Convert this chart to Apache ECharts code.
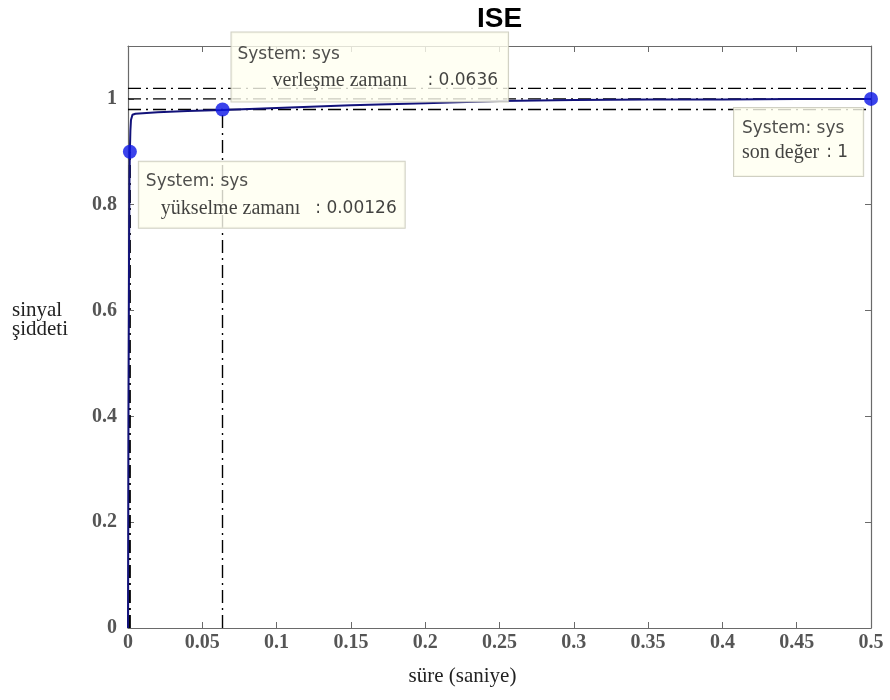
<!DOCTYPE html>
<html><head><meta charset="utf-8">
<script src="https://cdn.jsdelivr.net/npm/echarts@6/dist/echarts.min.js"></script>
<style>html,body{margin:0;padding:0;background:#fff}#c{width:890px;height:700px}</style>
</head><body><div id="c"></div>
<script>
// step response samples
const timeS  = [0, 0.0003, 0.0007, 0.001, 0.00126, 0.0016, 0.002, 0.003, 0.005, 0.01, 0.02, 0.04, 0.0636, 0.1, 0.15, 0.2, 0.25, 0.3, 0.35, 0.4, 0.45, 0.5];
const signal = [0, 0.4, 0.7, 0.85, 0.9, 0.94, 0.96, 0.97, 0.972, 0.973, 0.975, 0.977, 0.979, 0.983, 0.988, 0.992, 0.996, 0.998, 0.999, 0.999, 1.0, 1.0];
// characteristics
const riseTime = 0.00126, riseLevel = 0.9;
const settleTime = 0.0636, settleLevel = 0.98;
const finalTime = 0.5, finalValue = 1;
const bandLevels = [1.02, 1.0, 0.98];
const xTicks = [0,0.05,0.1,0.15,0.2,0.25,0.3,0.35,0.4,0.45,0.5];
const yTicks = [0,0.2,0.4,0.6,0.8,1];

const chart = echarts.init(document.getElementById('c'));
const dashDot = [13,5,2,5];
const series = [];
bandLevels.forEach(v => {
  series.push({type:'line', data:[[0,v],[0.5,v]], symbol:'none', silent:true,
    lineStyle:{color:'#000', width:1.4, type:dashDot}, z:2});
});
series.push({type:'line', data:[[riseTime,0],[riseTime,riseLevel]], symbol:'none',
  lineStyle:{color:'#000', width:2, type:dashDot}, z:2});
series.push({type:'line', data:[[settleTime,0],[settleTime,settleLevel]], symbol:'none',
  lineStyle:{color:'#000', width:1.4, type:dashDot}, z:2});
series.push({type:'line', data: timeS.map((t,i)=>[t,signal[i]]), symbol:'none',
  lineStyle:{color:'#12127a', width:2}, z:3});

const boxStyle = {backgroundColor:'#fffff0', borderColor:'#c4c4b4', borderWidth:1, color:'#000', align:'left', verticalAlign:'top'};
const hdr = {fontFamily:'DejaVu Sans', fontSize:17, color:'#222'};
const key = {fontFamily:'Liberation Serif', fontSize:20, color:'#111'};
const val = {fontFamily:'DejaVu Sans', fontSize:17, color:'#111'};
series.push({type:'scatter', symbolSize:14, itemStyle:{color:'#0a14e6'}, z:5,
  data:[
    {value:[riseTime, riseLevel], label:{show:true, position:[16,17],
      formatter:'{h|System: sys}\n{sp|}{k|yükselme zamanı}{v|: ' + riseTime + '}',
      ...boxStyle, padding:[6,8,6,7],
      rich:{h:{...hdr, lineHeight:27}, sp:{width:15, lineHeight:27},
            k:{...key, lineHeight:27}, v:{...val, lineHeight:27, padding:[0,0,0,15]}}}},
    {value:[settleTime, settleLevel], label:{show:true, position:[16,-70],
      formatter:'{h|System: sys}\n{sp|}{k|verleşme zamanı}{v|: ' + settleTime + '}',
      ...boxStyle, padding:[9,10,8,6],
      rich:{h:{...hdr, lineHeight:26}, sp:{width:35, lineHeight:26},
            k:{...key, lineHeight:26}, v:{...val, lineHeight:26, padding:[0,0,0,20]}}}},
    {value:[finalTime, finalValue], label:{show:true, position:[-130,16],
      formatter:'{h|System: sys}\n{k|son değer}{v|: ' + finalValue + '}',
      ...boxStyle, padding:[9,15,11,8],
      rich:{h:{...hdr, lineHeight:24}, k:{...key, lineHeight:24},
            v:{...val, lineHeight:24, padding:[0,0,0,7]}}}}
  ]});

const axisCommon = {axisLine:{show:true, onZero:false, lineStyle:{color:'#6a6a6a', width:1.2}},
  axisTick:{show:true, inside:true, length:6, lineStyle:{color:'#6a6a6a'}}, splitLine:{show:false}};
const lblFont = {fontFamily:'Liberation Serif', fontWeight:'bold', fontSize:20, color:'#555'};

chart.setOption({
  animation:false,
  backgroundColor:'#fff',
  title:{text:'ISE', left:472, top:0, textStyle:{fontFamily:'Liberation Sans', fontWeight:'bold', fontSize:28, color:'#000'}},
  grid:{left:128, right:19, top:46, bottom:72, show:false},
  xAxis:[
    {type:'value', min:0, max:0.5, interval:0.05, position:'bottom', ...axisCommon,
     axisLabel:{...lblFont, margin:5, formatter:v=>xTicks.some(t=>Math.abs(t-v)<1e-9)?String(+v.toFixed(2)):''},
     name:'süre (saniye)', nameLocation:'middle', nameGap:38,
     nameTextStyle:{fontFamily:'Liberation Serif', fontSize:21, color:'#222', padding:[0,74,0,0]}},
    {type:'value', min:0, max:0.5, interval:0.05, position:'top', ...axisCommon, axisLabel:{show:false}}
  ],
  yAxis:[
    {type:'value', min:0, max:1.1, interval:0.2, position:'left', ...axisCommon,
     axisLabel:{...lblFont, margin:11, formatter:v=>yTicks.some(t=>Math.abs(t-v)<1e-9)?String(+v.toFixed(1)):''}},
    {type:'value', min:0, max:1.1, interval:0.2, position:'right', ...axisCommon, axisLabel:{show:false}}
  ],
  graphic:[{type:'text', left:12, top:300, style:{text:'sinyal\nşiddeti', font:'21px "Liberation Serif"', fill:'#222', lineHeight:19}}],
  series: series
});
</script></body></html>
